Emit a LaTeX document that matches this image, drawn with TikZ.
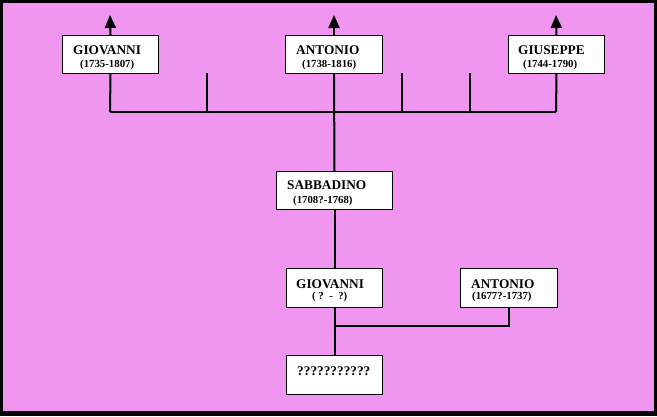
\documentclass[tikz,border=0pt]{standalone}
\usepackage{fontspec}
\setmainfont{Liberation Serif}
\usetikzlibrary{arrows.meta}
\definecolor{bgpink}{RGB}{240,150,240}
\begin{document}
\begin{tikzpicture}[x=1pt,y=-1pt,
  box/.style={draw=black, line width=1pt, fill=white, inner sep=0pt, anchor=north west, minimum width=96pt, minimum height=38pt},
  nm/.style={anchor=base west, inner sep=0pt, font=\fontsize{13.3}{14}\selectfont\bfseries},
  dt/.style={anchor=base west, inner sep=0pt, font=\fontsize{10.8}{12}\selectfont\bfseries},
  link/.style={draw=black, line width=2pt, line join=miter},
  up/.style={link, -{Triangle[width=11pt,length=13pt]}}]
\useasboundingbox (0,0) rectangle (657,416);
\fill[black] (0,0) rectangle (657,416);
\fill[bgpink] (3,3) rectangle (654,411);
% coordinates
\coordinate (g1arr) at (110,15);
\coordinate (a1arr) at (334,15);
\coordinate (gsarr) at (556,15);
\coordinate (hl) at (110,112);
\coordinate (hr) at (556,112);
\coordinate (t1a) at (207,73);
\coordinate (t1b) at (207,112);
\coordinate (t2a) at (402,73);
\coordinate (t2b) at (402,112);
\coordinate (t3a) at (470,73);
\coordinate (t3b) at (470,112);
\coordinate (jn) at (334,326);
% connectors first (under boxes)
\draw[link] (hl) -- (hr);
\draw[link] (t1a) -- (t1b);
\draw[link] (t2a) -- (t2b);
\draw[link] (t3a) -- (t3b);
% boxes
\node[box] (g1) at (62,35) {};
\node[box, minimum width=97pt] (a1) at (285,35) {};
\node[box] (gs) at (508,35) {};
\node[box, minimum width=116pt] (sab) at (276,171) {};
\node[box, minimum height=39pt] (g2) at (286,268) {};
\node[box, minimum width=97pt, minimum height=39pt] (a2) at (460,268) {};
\node[box, minimum height=39pt] (q) at (286,355) {};
% vertical links
\draw[link] (g1.south) -- (hl);
\draw[link] (gs.south) -- (hr);
\draw[link] (a1.south) -- (sab.north);
\draw[link] (sab.south) -- (g2.north);
\draw[link] (g2.south) -- (q.north);
\draw[link] (a2.south) |- (jn);
% arrows up
\draw[up] (g1.north) -- (g1arr);
\draw[up] (a1.north) -- (a1arr);
\draw[up] (gs.north) -- (gsarr);
% texts
\node[nm] (g1n) at (73,54) {GIOVANNI};
\node[dt] (g1d) at (80,67) {(1735-1807)};
\node[nm] (a1n) at (296,54) {ANTONIO};
\node[dt] (a1d) at (302,67) {(1738-1816)};
\node[nm] (gsn) at (518,54) {GIUSEPPE};
\node[dt] (gsd) at (523,67) {(1744-1790)};
\node[nm] (sabn) at (287,189) {SABBADINO};
\node[dt] (sabd) at (293,203) {(1708?-1768)};
\node[nm] (g2n) at (296,288) {GIOVANNI};
\node[dt] (g2d) at (312,299) {(\ ?\ \ -\ \ ?)};
\node[nm] (a2n) at (471,288) {ANTONIO};
\node[dt] (a2d) at (472,299) {(1677?-1737)};
\node[nm] (qn) at (297,375) {???????????};
\end{tikzpicture}
\end{document}
